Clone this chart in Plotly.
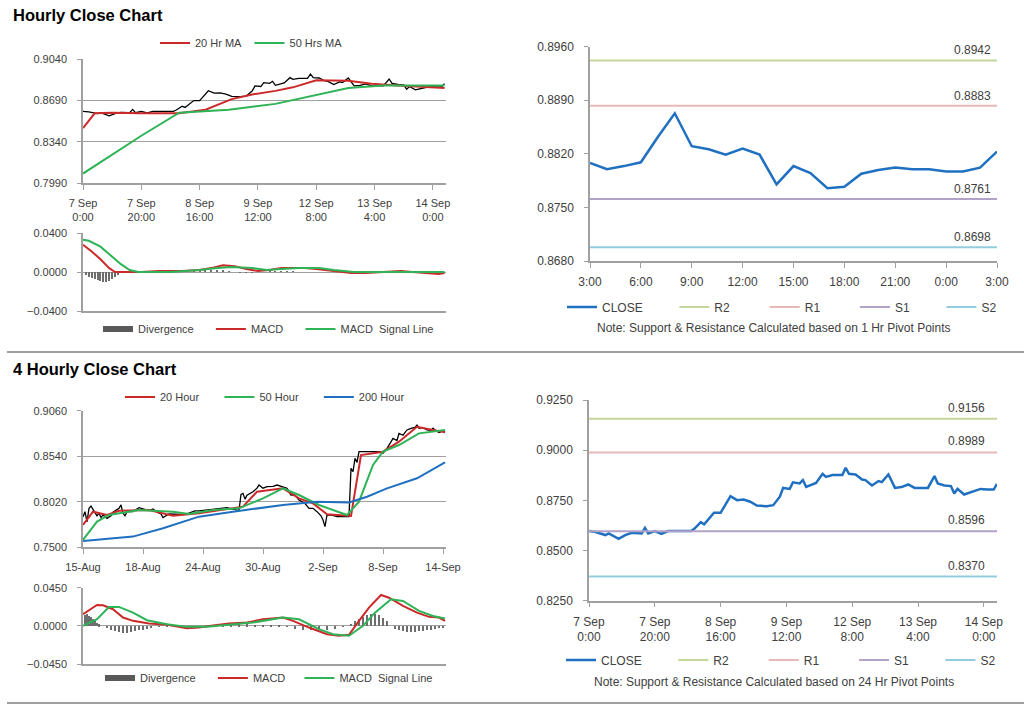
import plotly.graph_objects as go

# ---------------- DATA ----------------
# Hourly close (7 Sep 0:00 .. 14 Sep ~4:00), hour index
close_h = [0, 2, 5, 6, 9, 11, 13, 16, 17, 18, 20, 22, 24, 28, 31, 32, 34, 35, 36, 38,
           40, 43, 45, 47, 49, 51, 54, 56, 58, 59, 61, 62, 64, 65, 66, 69, 71, 72, 74, 77,
           78, 79, 81, 83, 84, 86, 88, 89, 91, 93, 95, 97, 99, 103, 105, 106, 108, 110, 111, 112,
           114, 117, 119, 121, 123, 124]
close_v = [0.8597, 0.8592, 0.8577, 0.8585, 0.8558, 0.8577, 0.8588, 0.8585, 0.8613, 0.8585,
           0.8597, 0.8583, 0.8597, 0.8597, 0.8597, 0.8608, 0.8641, 0.8630, 0.8651, 0.8688,
           0.8688, 0.8771, 0.8751, 0.8754, 0.8743, 0.8724, 0.8721, 0.8726, 0.8768, 0.8812,
           0.8807, 0.8840, 0.8834, 0.8851, 0.8817, 0.8837, 0.8882, 0.8867, 0.8876, 0.8876,
           0.8912, 0.8882, 0.8879, 0.8854, 0.8851, 0.8824, 0.8846, 0.8841, 0.8879, 0.8812,
           0.8816, 0.8829, 0.8812, 0.8812, 0.8871, 0.8834, 0.8824, 0.8821, 0.8784, 0.8807,
           0.8779, 0.8796, 0.8807, 0.8804, 0.8804, 0.8832]
hourly_tickvals = [0, 20, 40, 60, 80, 100, 120]
hourly_ticktext = ["7 Sep<br>0:00", "7 Sep<br>20:00", "8 Sep<br>16:00", "9 Sep<br>12:00",
                   "12 Sep<br>8:00", "13 Sep<br>4:00", "14 Sep<br>0:00"]

ma20_h = [0, 2, 4, 10, 20, 33, 42, 51, 58, 66, 72, 80, 91, 99, 108, 124]
ma20_v = [0.8455, 0.852, 0.858, 0.8585, 0.858, 0.858, 0.861, 0.870, 0.874, 0.877, 0.880,
          0.886, 0.8855, 0.883, 0.8815, 0.8795]
ma50_h = [0, 10, 20, 33, 50, 66, 80, 91, 103, 124]
ma50_v = [0.807, 0.823, 0.839, 0.8585, 0.861, 0.866, 0.8735, 0.8795, 0.8815, 0.8815]

macd1_h = [0, 3, 6, 9, 11, 20, 26, 34, 40, 44, 48, 52, 56, 60, 64, 68, 72, 76, 80, 86,
           92, 97, 103, 109, 113, 118, 122, 124]
macd1_v = [0.028, 0.021, 0.013, 0.004, 0.000, 0.000, 0.001, 0.001, 0.002, 0.004, 0.007,
           0.006, 0.003, 0.001, 0.002, 0.004, 0.004, 0.004, 0.003, 0.001, -0.001, -0.001,
           0.000, 0.001, 0.000, -0.001, -0.002, -0.001]
sig1_h = [0, 2, 6, 9, 13, 16, 19, 30, 40, 46, 51, 58, 63, 68, 74, 81, 86, 93, 100, 110, 124]
sig1_v = [0.033, 0.032, 0.026, 0.018, 0.008, 0.002, 0.000, 0.000, 0.002, 0.004, 0.005,
          0.004, 0.002, 0.003, 0.004, 0.004, 0.002, 0.000, 0.000, 0.000, 0.000]
div1_h = [1, 2, 3, 4, 5, 6, 7, 8, 9, 10, 11, 12, 13, 38, 40, 42, 44, 46, 48, 50, 54, 56, 58,
          64, 66, 68, 70, 72]
div1_v = [-0.003, -0.005, -0.006, -0.007, -0.008, -0.009, -0.010, -0.010, -0.009, -0.007,
          -0.005, -0.003, -0.001, 0.001, 0.001, 0.002, 0.002, 0.002, 0.002, 0.001,
          -0.001, -0.001, -0.001, 0.001, 0.001, 0.001, 0.001, 0.001]

# 1 Hr pivot chart
pivot1_ticktext = ["3:00", "6:00", "9:00", "12:00", "15:00", "18:00", "21:00", "0:00", "3:00"]
close1h = [0.8808, 0.8800, 0.8804, 0.8809, 0.8842, 0.8873, 0.8830, 0.8826, 0.8819, 0.8827,
           0.8819, 0.8780, 0.8804, 0.8795, 0.8775, 0.8777, 0.8794, 0.8799, 0.8802, 0.8800,
           0.8800, 0.8797, 0.8797, 0.8802, 0.8823]
R2_1h, R1_1h, S1_1h, S2_1h = 0.8942, 0.8883, 0.8761, 0.8698

# 4 hourly chart (bar index)
c4_x = [0, 1, 2, 3, 4, 5, 6, 7, 8, 9, 10, 12, 14, 15, 17, 18, 19, 20, 21, 22, 25, 28, 30, 33,
        35, 37, 39, 40, 43, 47, 50, 53, 56, 58, 62, 65, 68, 72, 75, 78, 79, 80, 81, 82, 85,
        87, 88, 90, 92, 95, 97, 100, 102, 104, 106, 108, 111, 113, 115, 117, 119, 120, 121,
        122, 124, 127, 130, 133, 134, 135, 136, 137, 138, 140, 142, 145, 148, 150, 152, 154,
        155, 157, 158, 160, 162, 164, 166, 167, 168, 170, 172, 174, 175, 176, 178, 180, 181]
c4_v = [0.785, 0.7907, 0.779, 0.7945, 0.797, 0.793, 0.7907, 0.786, 0.789, 0.784, 0.787,
        0.783, 0.786, 0.790, 0.793, 0.7945, 0.7985, 0.789, 0.786, 0.7907, 0.7907, 0.7953,
        0.794, 0.792, 0.7938, 0.790, 0.788, 0.784, 0.788, 0.788, 0.7875, 0.789, 0.7915,
        0.7915, 0.7925, 0.7934, 0.7945, 0.7953, 0.7935, 0.7920, 0.8105, 0.8116, 0.805,
        0.8095, 0.8135, 0.8175, 0.8211, 0.8175, 0.8192, 0.8195, 0.8211, 0.8192, 0.8175,
        0.8097, 0.8095, 0.804, 0.800, 0.7945, 0.7945, 0.7907, 0.786, 0.7812, 0.7736,
        0.7869, 0.7869, 0.785, 0.785, 0.785, 0.8402, 0.8363, 0.8516, 0.847, 0.8592, 0.8592,
        0.8584, 0.8584, 0.8592, 0.8575, 0.863, 0.8705, 0.8744, 0.872, 0.8801, 0.8780,
        0.8840, 0.8858, 0.887, 0.8896, 0.8860, 0.8866, 0.884, 0.8835, 0.8860, 0.8840,
        0.8810, 0.8830, 0.882]
four_tickvals = [0, 30, 60, 90, 120, 150, 180]
four_ticktext = ["15-Aug", "18-Aug", "24-Aug", "30-Aug", "2-Sep", "8-Sep", "14-Sep"]
red4_x = [0, 5, 12, 18, 33, 45, 58, 73, 80, 87, 100, 108, 115, 122, 134, 139, 150, 158,
          167, 175, 181]
red4_v = [0.7755, 0.7907, 0.787, 0.7918, 0.7926, 0.786, 0.7888, 0.7938, 0.7964, 0.8135,
          0.8173, 0.8059, 0.8002, 0.7877, 0.7858, 0.8554, 0.8592, 0.8706, 0.8877, 0.884,
          0.8813]
green4_x = [0, 7, 13, 28, 45, 53, 65, 78, 90, 100, 108, 118, 132, 138, 145, 150, 158, 168, 181]
green4_v = [0.7584, 0.7793, 0.787, 0.7926, 0.7907, 0.788, 0.7926, 0.7945, 0.8059, 0.8173,
            0.8097, 0.7983, 0.7869, 0.8021, 0.844, 0.8592, 0.8668, 0.8801, 0.884]
blue4_x = [0, 25, 40, 58, 75, 100, 117, 133, 142, 152, 167, 181]
blue4_v = [0.7572, 0.7622, 0.7717, 0.785, 0.7907, 0.7983, 0.8021, 0.8013, 0.8078, 0.8173,
           0.8288, 0.847]

macd4_x = [0, 7, 10, 15, 20, 25, 33, 42, 52, 58, 65, 73, 82, 90, 100, 105, 113, 122, 128,
           133, 138, 143, 149, 153, 160, 167, 173, 178, 181]
macd4_v = [0.0137, 0.0246, 0.0242, 0.0196, 0.0098, 0.0059, 0.0027, 0.0012, -0.0027, -0.002,
           0.0004, 0.0027, 0.0039, 0.0078, 0.0098, 0.0059, -0.002, -0.0098, -0.0117, -0.0106,
           0.0059, 0.0215, 0.0364, 0.0332, 0.0235, 0.0156, 0.0106, 0.0098, 0.0059]
sig4_x = [0, 7, 13, 18, 25, 32, 42, 52, 62, 75, 85, 100, 108, 118, 125, 133, 140, 146, 154,
          160, 168, 175, 181]
sig4_v = [0.0, 0.0078, 0.0223, 0.0223, 0.0156, 0.0066, 0.002, -0.0012, -0.0012, 0.0012,
          0.0039, 0.0098, 0.0078, -0.0039, -0.0098, -0.0117, 0.0, 0.0156, 0.0313, 0.0293,
          0.0176, 0.0117, 0.0086]
div4_x = [1, 2, 3, 4, 5, 6, 7, 8,
          12, 14, 16, 18, 20, 22, 24, 26, 28, 30, 32, 34,
          38, 42, 46,
          70, 74, 78, 82, 86, 90, 94, 98,
          102, 106, 110, 114, 118, 122, 126, 130,
          134, 136, 138, 140, 142, 144, 146, 148, 150, 152,
          156, 158, 160, 162, 164, 166, 168, 170, 172, 174, 176, 178, 180]
div4_v = [0.013, 0.014, 0.012, 0.011, 0.009, 0.007, 0.004, 0.002,
          -0.002, -0.004, -0.006, -0.007, -0.008, -0.008, -0.007, -0.006, -0.005, -0.004, -0.003, -0.002,
          -0.001, -0.001, -0.001,
          0.001, 0.002, 0.002, 0.002, 0.001, 0.001, 0.001, 0.0005,
          -0.001, -0.003, -0.004, -0.005, -0.005, -0.004, -0.003, -0.001,
          0.003, 0.006, 0.009, 0.011, 0.013, 0.014, 0.014, 0.013, 0.010, 0.006,
          -0.003, -0.005, -0.006, -0.007, -0.007, -0.007, -0.006, -0.006, -0.005, -0.004, -0.003, -0.002, -0.002]

R2_24h, R1_24h, S1_24h, S2_24h = 0.9156, 0.8989, 0.8596, 0.8370

# ---------------- STYLE ----------------
FONT = "Liberation Sans, Arial, sans-serif"
TXT = "#404040"
AX = "#a0a0a0"
RED = "#cc2a2a"
GREEN = "#2eb357"
BLUE = "#1f70c1"
C_R2 = "#c3d69b"
C_R1 = "#e6b9b8"
C_S1 = "#b3a2c7"
C_S2 = "#93cddd"
DIV = "#6e6e6e"
DIV_LEG = "#595959"
NB = "\u00a0"

W, H = 1024, 706


def px_x(a, b):
    return [a / W, b / W]


def px_y(top, bottom):
    return [1 - bottom / H, 1 - top / H]


def pad(name, n):
    return name + NB * n


fig = go.Figure()

# ---- Panel 1: hourly close + MAs
fig.add_trace(go.Scatter(x=close_h, y=close_v, mode="lines", line=dict(color="black", width=1.3),
                         showlegend=False, xaxis="x", yaxis="y"))
fig.add_trace(go.Scatter(x=ma20_h, y=ma20_v, mode="lines", name=pad("20 Hr MA", 1),
                         line=dict(color=RED, width=2), xaxis="x", yaxis="y", legend="legend"))
fig.add_trace(go.Scatter(x=ma50_h, y=ma50_v, mode="lines", name="50 Hrs MA",
                         line=dict(color=GREEN, width=2), xaxis="x", yaxis="y", legend="legend"))

# ---- Panel 1 MACD
fig.add_trace(go.Bar(x=div1_h, y=div1_v, name="Divergence", marker=dict(color=DIV, line=dict(width=0)),
                     width=0.35, xaxis="x2", yaxis="y2", showlegend=False))
fig.add_trace(go.Scatter(x=[None], y=[None], mode="lines", name=pad("Divergence", 4),
                         line=dict(color=DIV_LEG, width=6), xaxis="x2", yaxis="y2",
                         legend="legend2"))
fig.add_trace(go.Scatter(x=macd1_h, y=macd1_v, mode="lines", name=pad("MACD", 4),
                         line=dict(color=RED, width=2), xaxis="x2", yaxis="y2", legend="legend2"))
fig.add_trace(go.Scatter(x=sig1_h, y=sig1_v, mode="lines", name="MACD  Signal Line",
                         line=dict(color=GREEN, width=2), xaxis="x2", yaxis="y2", legend="legend2"))

# ---- Panel 2: 1 hr pivots
hrs1 = list(range(len(close1h)))
fig.add_trace(go.Scatter(x=hrs1, y=close1h, mode="lines", name=pad("CLOSE", 8),
                         line=dict(color=BLUE, width=2.5), xaxis="x3", yaxis="y3", legend="legend3"))
for nm, lv, col, n in [("R2", R2_1h, C_R2, 9), ("R1", R1_1h, C_R1, 9), ("S1", S1_1h, C_S1, 8),
                       ("S2", S2_1h, C_S2, 0)]:
    fig.add_trace(go.Scatter(x=[hrs1[0], hrs1[-1]], y=[lv, lv], mode="lines", name=pad(nm, n),
                             line=dict(color=col, width=2), xaxis="x3", yaxis="y3", legend="legend3"))
    fig.add_annotation(x=0.99, xref="x3 domain", y=lv, yref="y3", text=f"{lv:.4f}",
                       xanchor="right", yanchor="bottom", yshift=1, showarrow=False,
                       font=dict(family=FONT, size=12, color=TXT))

# ---- Panel 3: 4 hourly
fig.add_trace(go.Scatter(x=c4_x, y=c4_v, mode="lines", line=dict(color="black", width=1.3),
                         showlegend=False, xaxis="x4", yaxis="y4"))
fig.add_trace(go.Scatter(x=red4_x, y=red4_v, mode="lines", name=pad("20 Hour", 5),
                         line=dict(color=RED, width=2), xaxis="x4", yaxis="y4", legend="legend4"))
fig.add_trace(go.Scatter(x=green4_x, y=green4_v, mode="lines", name=pad("50 Hour", 5),
                         line=dict(color=GREEN, width=2), xaxis="x4", yaxis="y4", legend="legend4"))
fig.add_trace(go.Scatter(x=blue4_x, y=blue4_v, mode="lines", name="200 Hour",
                         line=dict(color=BLUE, width=2), xaxis="x4", yaxis="y4", legend="legend4"))

# ---- Panel 3 MACD
fig.add_trace(go.Bar(x=div4_x, y=div4_v, name="Divergence", marker=dict(color=DIV, line=dict(width=0)),
                     width=0.6, xaxis="x5", yaxis="y5", showlegend=False))
fig.add_trace(go.Scatter(x=[None], y=[None], mode="lines", name=pad("Divergence", 4),
                         line=dict(color=DIV_LEG, width=6), xaxis="x5", yaxis="y5",
                         legend="legend5"))
fig.add_trace(go.Scatter(x=macd4_x, y=macd4_v, mode="lines", name=pad("MACD", 3),
                         line=dict(color=RED, width=2), xaxis="x5", yaxis="y5", legend="legend5"))
fig.add_trace(go.Scatter(x=sig4_x, y=sig4_v, mode="lines", name="MACD  Signal Line",
                         line=dict(color=GREEN, width=2), xaxis="x5", yaxis="y5", legend="legend5"))

# ---- Panel 4: 24 hr pivots
fig.add_trace(go.Scatter(x=close_h, y=close_v, mode="lines", name=pad("CLOSE", 8),
                         line=dict(color=BLUE, width=2.5), xaxis="x6", yaxis="y6", legend="legend6"))
for nm, lv, col, n in [("R2", R2_24h, C_R2, 9), ("R1", R1_24h, C_R1, 9), ("S1", S1_24h, C_S1, 8),
                       ("S2", S2_24h, C_S2, 0)]:
    fig.add_trace(go.Scatter(x=[0, 124], y=[lv, lv], mode="lines", name=pad(nm, n),
                             line=dict(color=col, width=2), xaxis="x6", yaxis="y6", legend="legend6"))
    fig.add_annotation(x=0.975, xref="x6 domain", y=lv, yref="y6", text=f"{lv:.4f}",
                       xanchor="right", yanchor="bottom", yshift=2, showarrow=False,
                       font=dict(family=FONT, size=12, color=TXT))

# ---------------- AXES ----------------
tickfont_s = dict(family=FONT, size=11, color=TXT)
tickfont_l = dict(family=FONT, size=12, color=TXT)


def xaxis(dom, rng, anchor, tv=None, tt=None, labels=True, font=tickfont_s, ticks="outside"):
    return dict(domain=dom, range=rng, anchor=anchor, showgrid=False, zeroline=False,
                showline=True, linecolor=AX, linewidth=1.5, ticks=ticks, ticklen=5,
                tickcolor=AX, tickvals=tv, ticktext=tt, showticklabels=labels,
                tickfont=font, ticklabelstandoff=4, automargin=False)


def yaxis(dom, rng, anchor, tv, grid, font=tickfont_s):
    return dict(domain=dom, range=rng, anchor=anchor, showgrid=grid, gridcolor=AX, gridwidth=1,
                zeroline=False, showline=True, linecolor=AX, linewidth=1.5, ticks="outside",
                ticklen=4, tickcolor=AX, tickvals=tv, tickformat=".4f", tickfont=font,
                ticklabelstandoff=8, automargin=False)


def legend(xl, yc, size=11):
    return dict(orientation="h", x=xl / W, xanchor="left", y=1 - yc / H, yanchor="middle",
                font=dict(family=FONT, size=size, color=TXT), bgcolor="rgba(0,0,0,0)",
                itemwidth=30, tracegroupgap=0, traceorder="normal")


fig.update_layout(
    width=W, height=H, margin=dict(l=0, r=0, t=0, b=0, autoexpand=False),
    paper_bgcolor="white", plot_bgcolor="white", showlegend=True,
    font=dict(family=FONT, color=TXT),
    xaxis=xaxis(px_x(83, 446), [0, 124.5], "y", hourly_tickvals, hourly_ticktext),
    yaxis=yaxis(px_y(59, 183), [0.799, 0.904], "x", [0.799, 0.834, 0.869, 0.904], True),
    xaxis2=xaxis(px_x(83, 446), [0, 124.5], "y2", labels=False, ticks=""),
    yaxis2=yaxis(px_y(233, 311), [-0.04, 0.04], "x2", [-0.04, 0.0, 0.04], True),
    xaxis3=xaxis(px_x(590, 997), [0, 24], "y3", [0, 3, 6, 9, 12, 15, 18, 21, 24], pivot1_ticktext,
                 font=tickfont_l),
    yaxis3=yaxis(px_y(46.7, 261), [0.868, 0.896], "x3", [0.868, 0.875, 0.882, 0.889, 0.896], False,
                 font=tickfont_l),
    xaxis4=xaxis(px_x(83, 446), [0, 181.5], "y4", four_tickvals, four_ticktext),
    yaxis4=yaxis(px_y(410.7, 547.3), [0.75, 0.906], "x4", [0.75, 0.802, 0.854, 0.906], True),
    xaxis5=xaxis(px_x(83, 446), [0, 181.5], "y5", labels=False, ticks=""),
    yaxis5=yaxis(px_y(587.7, 664), [-0.045, 0.045], "x5", [-0.045, 0.0, 0.045], True),
    xaxis6=xaxis(px_x(589, 997), [0, 124], "y6", hourly_tickvals, hourly_ticktext, font=tickfont_l),
    yaxis6=yaxis(px_y(400, 600.7), [0.825, 0.925], "x6", [0.825, 0.85, 0.875, 0.9, 0.925], False,
                 font=tickfont_l),
    legend=legend(155, 43),
    legend2=legend(98, 329),
    legend3=legend(562, 307, 12),
    legend4=legend(120, 397),
    legend5=legend(100, 678),
    legend6=legend(561, 660, 12),
    bargap=0,
)

# titles, notes, separators
fig.add_annotation(x=11 / W, y=1 - 15 / H, xref="paper", yref="paper", text="<b>Hourly Close Chart</b>",
                   xanchor="left", yanchor="middle", showarrow=False,
                   font=dict(family=FONT, size=16.5, color="black"))
fig.add_annotation(x=11 / W, y=1 - 369 / H, xref="paper", yref="paper", text="<b>4 Hourly Close Chart</b>",
                   xanchor="left", yanchor="middle", showarrow=False,
                   font=dict(family=FONT, size=16.5, color="black"))
fig.add_annotation(x=774 / W, y=1 - 328 / H, xref="paper", yref="paper",
                   text="Note: Support & Resistance Calculated based on 1 Hr Pivot Points",
                   xanchor="center", yanchor="middle", showarrow=False,
                   font=dict(family=FONT, size=12, color=TXT))
fig.add_annotation(x=774 / W, y=1 - 682 / H, xref="paper", yref="paper",
                   text="Note: Support & Resistance Calculated based on 24 Hr Pivot Points",
                   xanchor="center", yanchor="middle", showarrow=False,
                   font=dict(family=FONT, size=12, color=TXT))
fig.add_shape(type="line", xref="paper", yref="paper", x0=7 / W, x1=1, y0=1 - 352 / H, y1=1 - 352 / H,
              line=dict(color="#a0a0a0", width=2))
fig.add_shape(type="line", xref="paper", yref="paper", x0=7 / W, x1=1, y0=1 - 703 / H, y1=1 - 703 / H,
              line=dict(color="#a0a0a0", width=2))

fig.write_html("out.html")
